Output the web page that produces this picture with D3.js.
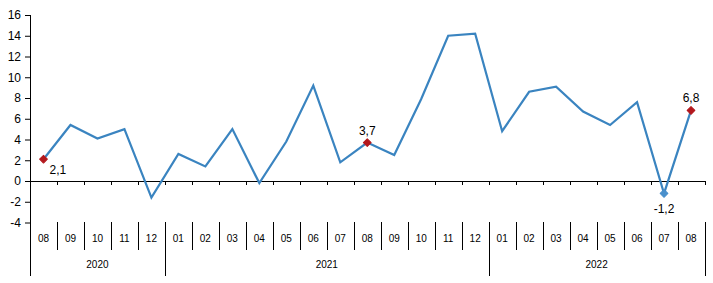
<!DOCTYPE html>
<html>
<head>
<meta charset="utf-8">
<script src="https://cdn.jsdelivr.net/npm/d3@7"></script>
<style>
  body { margin: 0; background: #fff; }
  text { font-family: "Liberation Sans", Arial, sans-serif; fill: #000; }
</style>
</head>
<body>
<div id="chart"></div>
<script>
// Data
var months = ["08","09","10","11","12","01","02","03","04","05","06","07","08",
              "09","10","11","12","01","02","03","04","05","06","07","08"];
var years = ["2020","2021","2022"];
var yearSpan = [5, 12, 8]; // number of months in each year group
var values = [2.1, 5.4, 4.1, 5.0, -1.6, 2.6, 1.4, 5.0, -0.2, 3.8, 9.2, 1.8, 3.7,
              2.5, 7.9, 14.0, 14.2, 4.8, 8.6, 9.1, 6.7, 5.4, 7.6, -1.2, 6.8];
var yTicks = [-4, -2, 0, 2, 4, 6, 8, 10, 12, 14, 16];
// highlighted points: index, label, placement
var marks = [
    { i: 0, label: "2,1", pos: "right" },
    { i: 12, label: "3,7", pos: "above" },
    { i: 24, label: "6,8", pos: "above" },
    { i: 23, label: "-1,2", pos: "below" }
];

var width = 713, height = 283;
var margin = { left: 30, right: 8, top: 15 };
var plotRight = width - margin.right;

var svg = d3.select("#chart").append("svg")
    .attr("width", width)
    .attr("height", height);

var x = d3.scaleBand()
    .domain(d3.range(months.length))
    .range([margin.left, plotRight - 0.5])
    .paddingInner(0).paddingOuter(0);

var y = d3.scaleLinear()
    .domain([-4, 16])
    .range([222.5, 15]);

var lineColor = "#3a84c0";
var red = "#b3181d";

// Y axis
var yAxis = svg.append("g")
    .attr("transform", "translate(" + margin.left + ",0)")
    .call(d3.axisLeft(y).tickValues(yTicks).tickSize(5).tickSizeOuter(0)
        .tickFormat(function (d) { return d; }));
yAxis.select(".domain").remove();
yAxis.selectAll("line").attr("stroke", "#000");
yAxis.selectAll("text").style("font-size", "12px").attr("dx", "-1");

// vertical axis line, runs down through the category area
svg.append("line")
    .attr("x1", margin.left + 0.5).attr("x2", margin.left + 0.5)
    .attr("y1", y(16)).attr("y2", 276)
    .attr("stroke", "#000");

// zero line with small ticks
svg.append("line")
    .attr("x1", margin.left).attr("x2", plotRight)
    .attr("y1", Math.round(y(0)) + 0.5).attr("y2", Math.round(y(0)) + 0.5)
    .attr("stroke", "#000");

svg.append("g")
    .selectAll("line")
    .data(d3.range(1, months.length + 1))
    .enter()
    .append("line")
    .attr("x1", function (d) { return Math.round(x(d - 1) + x.bandwidth()) + 0.5; })
    .attr("x2", function (d) { return Math.round(x(d - 1) + x.bandwidth()) + 0.5; })
    .attr("y1", Math.round(y(0)))
    .attr("y2", Math.round(y(0)) + 4)
    .attr("stroke", "#000");

// month separators
svg.append("g")
    .selectAll("line")
    .data(d3.range(1, months.length + 1))
    .enter()
    .append("line")
    .attr("x1", function (d) { return Math.round(x(d - 1) + x.bandwidth()) + 0.5; })
    .attr("x2", function (d) { return Math.round(x(d - 1) + x.bandwidth()) + 0.5; })
    .attr("y1", 222)
    .attr("y2", 250)
    .attr("stroke", "#000");

// month labels
svg.append("g")
    .selectAll("text")
    .data(months)
    .enter()
    .append("text")
    .attr("x", function (d, i) { return x(i) + x.bandwidth() / 2; })
    .attr("y", 242)
    .attr("text-anchor", "middle")
    .style("font-size", "10px")
    .text(function (d) { return d; });

// year groups
var yearStart = [];
var acc = 0;
yearSpan.forEach(function (n) { yearStart.push(acc); acc += n; });

svg.append("g")
    .selectAll("line")
    .data(yearSpan)
    .enter()
    .append("line")
    .attr("x1", function (d, i) { return Math.round(x(yearStart[i] + d - 1) + x.bandwidth()) + 0.5; })
    .attr("x2", function (d, i) { return Math.round(x(yearStart[i] + d - 1) + x.bandwidth()) + 0.5; })
    .attr("y1", 250)
    .attr("y2", 276)
    .attr("stroke", "#000");

svg.append("g")
    .selectAll("text")
    .data(years)
    .enter()
    .append("text")
    .attr("x", function (d, i) {
        var a = x(yearStart[i]);
        var b = x(yearStart[i] + yearSpan[i] - 1) + x.bandwidth();
        return (a + b) / 2;
    })
    .attr("y", 268)
    .attr("text-anchor", "middle")
    .style("font-size", "10px")
    .text(function (d) { return d; });

// the line
var cx = function (i) { return x(i) + x.bandwidth() / 2; };
svg.append("path")
    .datum(values)
    .attr("fill", "none")
    .attr("stroke", lineColor)
    .attr("stroke-width", 2.2)
    .attr("stroke-linejoin", "miter")
    .attr("d", d3.line()
        .x(function (d, i) { return cx(i); })
        .y(function (d) { return y(d); }));

// markers: small square turned 45 degrees
var diamond = d3.symbol().type(d3.symbolSquare).size(30);
svg.append("g")
    .selectAll("path")
    .data(marks)
    .enter()
    .append("path")
    .attr("d", diamond)
    .attr("transform", function (d) { return "translate(" + cx(d.i) + "," + y(values[d.i]) + ") rotate(45)"; })
    .attr("fill", function (d) { return values[d.i] < 0 ? "#4a90cc" : red; })
    .attr("stroke", function (d) { return values[d.i] < 0 ? "#4a90cc" : red; })
    .attr("stroke-width", 1)
    .attr("stroke-linejoin", "round");

svg.append("g")
    .selectAll("text")
    .data(marks)
    .enter()
    .append("text")
    .attr("x", function (d) { return d.pos == "right" ? cx(d.i) + 6 : cx(d.i); })
    .attr("y", function (d) {
        var py = y(values[d.i]);
        if (d.pos == "right") return py + 15;
        if (d.pos == "above") return py - 8;
        return py + 20;
    })
    .attr("text-anchor", function (d) { return d.pos == "right" ? "start" : "middle"; })
    .style("font-size", "12px")
    .text(function (d) { return d.label; });
</script>
</body>
</html>
